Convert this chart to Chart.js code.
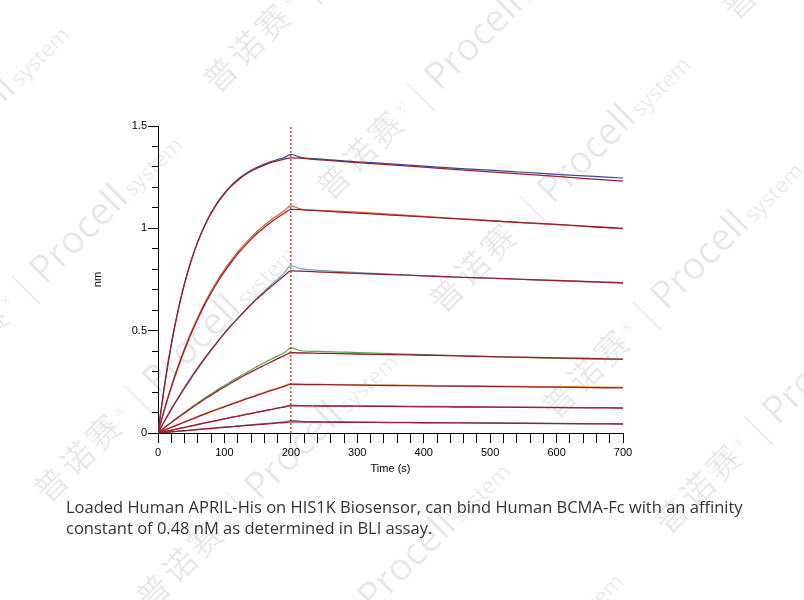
<!DOCTYPE html>
<html>
<head>
<meta charset="utf-8">
<script src="https://cdn.jsdelivr.net/npm/chart.js@4"></script>
<style>
  body { margin: 0; background: #fff; }
  #wrap { position: relative; width: 804px; height: 600px; overflow: hidden; }
  #myChart { position: absolute; left: 0; top: 0; z-index: 1; }
  #caption {
    position: absolute; left: 66px; top: 496px; width: 730px; z-index: 2;
    font-family: "Open Sans", "Noto Sans", sans-serif; font-size: 16.5px;
    line-height: 21px; color: #333;
  }
  .wm {
    position: absolute; z-index: 0; white-space: nowrap; height: 40px; line-height: 40px;
    transform-origin: 0 20px; transform: rotate(-45deg);
    color: rgba(0, 0, 0, 0.09); font-family: "Open Sans", sans-serif;
  }
  .wm .cn { font-family: "Noto Sans CJK SC", sans-serif; font-size: 33px; letter-spacing: 4px; }
  .wm .r { font-size: 13px; vertical-align: 12px; }
  .wm .bar { font-size: 40px; font-weight: 300; margin: 0 6px; }
  .wm .en { font-size: 38px; }
  .wm .sys { font-size: 22px; margin-left: 4px; }
</style>
</head>
<body>
<div id="wrap">
  <canvas id="myChart" width="804" height="600"></canvas>
  <div id="caption">Loaded Human APRIL-His on HIS1K Biosensor, can bind Human BCMA-Fc with an affinity<br>constant of 0.48 nM as determined in BLI assay.</div>
</div>
<script>
// time points (s) for fitted curves and measured curves
var fitTime = [0, 10, 20, 30, 40, 50, 60, 70, 80, 90, 100, 110, 120, 130, 140, 150, 160, 170, 180, 190, 200,
  250, 300, 350, 400, 450, 500, 550, 600, 650, 700];
var dataTime = [0, 10, 20, 30, 40, 50, 60, 70, 80, 90, 100, 110, 120, 130, 140, 150, 160, 170, 180, 190, 200,
  215, 250, 300, 350, 400, 450, 500, 550, 600, 650, 700];

// fitted responses (nm), highest concentration first
var fit1 = [0, 0.238, 0.435, 0.597, 0.732, 0.843, 0.935, 1.011, 1.074, 1.126, 1.169, 1.205, 1.234, 1.259, 1.279, 1.295, 1.309, 1.321, 1.330, 1.338, 1.344,
  1.333, 1.321, 1.310, 1.299, 1.287, 1.276, 1.265, 1.254, 1.242, 1.231];
var fit2 = [0, 0.117, 0.223, 0.319, 0.406, 0.486, 0.558, 0.625, 0.684, 0.739, 0.788, 0.833, 0.875, 0.912, 0.946, 0.977, 1.004, 1.030, 1.053, 1.074, 1.093,
  1.084, 1.074, 1.065, 1.056, 1.046, 1.037, 1.028, 1.019, 1.009, 1.000];
var fit3 = [0, 0.060, 0.117, 0.171, 0.223, 0.272, 0.319, 0.365, 0.407, 0.448, 0.488, 0.525, 0.560, 0.594, 0.627, 0.658, 0.687, 0.715, 0.742, 0.768, 0.792,
  0.786, 0.780, 0.774, 0.768, 0.762, 0.757, 0.751, 0.745, 0.739, 0.733];
var fit4 = [0, 0.026, 0.051, 0.075, 0.098, 0.121, 0.143, 0.165, 0.185, 0.206, 0.225, 0.244, 0.263, 0.281, 0.298, 0.315, 0.331, 0.347, 0.363, 0.378, 0.392,
  0.389, 0.386, 0.383, 0.380, 0.377, 0.373, 0.370, 0.367, 0.364, 0.361];
var fit5 = [0, 0.014, 0.027, 0.040, 0.053, 0.066, 0.079, 0.092, 0.104, 0.116, 0.128, 0.140, 0.151, 0.163, 0.174, 0.185, 0.196, 0.207, 0.217, 0.228, 0.238,
  0.236, 0.234, 0.232, 0.230, 0.229, 0.227, 0.225, 0.224, 0.222, 0.220];
var fit6 = [0, 0.007, 0.014, 0.021, 0.028, 0.035, 0.042, 0.049, 0.056, 0.062, 0.069, 0.076, 0.082, 0.089, 0.095, 0.102, 0.108, 0.114, 0.121, 0.127, 0.133,
  0.132, 0.131, 0.130, 0.128, 0.127, 0.126, 0.125, 0.124, 0.123, 0.122];
var fit7 = [0, 0.003, 0.006, 0.009, 0.011, 0.014, 0.017, 0.020, 0.022, 0.025, 0.028, 0.030, 0.033, 0.036, 0.038, 0.041, 0.044, 0.046, 0.049, 0.051, 0.054,
  0.053, 0.052, 0.051, 0.050, 0.049, 0.048, 0.047, 0.046, 0.045, 0.044];

// measured responses (nm)
var data1 = [0, 0.232, 0.430, 0.594, 0.730, 0.842, 0.935, 1.012, 1.076, 1.129, 1.172, 1.209, 1.239, 1.263, 1.284, 1.300, 1.314, 1.326, 1.336, 1.346, 1.361,
  1.347, 1.337, 1.325, 1.315, 1.304, 1.293, 1.284, 1.274, 1.264, 1.255, 1.246];
var data2 = [0, 0.121, 0.229, 0.326, 0.414, 0.494, 0.567, 0.634, 0.694, 0.749, 0.798, 0.843, 0.885, 0.922, 0.956, 0.987, 1.015, 1.041, 1.064, 1.086, 1.110,
  1.094, 1.087, 1.079, 1.069, 1.058, 1.048, 1.038, 1.027, 1.018, 1.008, 0.998];
var data3 = [0, 0.058, 0.113, 0.166, 0.217, 0.266, 0.313, 0.359, 0.402, 0.444, 0.485, 0.523, 0.560, 0.595, 0.629, 0.662, 0.693, 0.723, 0.752, 0.781, 0.818,
  0.803, 0.793, 0.784, 0.776, 0.768, 0.761, 0.755, 0.750, 0.744, 0.740, 0.735];
var data4 = [0, 0.027, 0.052, 0.077, 0.101, 0.125, 0.148, 0.170, 0.191, 0.212, 0.232, 0.252, 0.271, 0.290, 0.308, 0.326, 0.343, 0.360, 0.376, 0.392, 0.416,
  0.402, 0.398, 0.393, 0.388, 0.383, 0.378, 0.373, 0.369, 0.365, 0.362, 0.359];
var data5 = [0, 0.015, 0.029, 0.042, 0.056, 0.069, 0.082, 0.095, 0.107, 0.119, 0.131, 0.143, 0.154, 0.166, 0.177, 0.188, 0.199, 0.210, 0.220, 0.231, 0.243,
  0.240, 0.238, 0.236, 0.234, 0.233, 0.231, 0.230, 0.228, 0.227, 0.226, 0.224];
var data6 = [0, 0.006, 0.013, 0.020, 0.027, 0.034, 0.041, 0.048, 0.055, 0.062, 0.069, 0.076, 0.082, 0.089, 0.096, 0.102, 0.109, 0.115, 0.122, 0.128, 0.136,
  0.134, 0.133, 0.132, 0.131, 0.130, 0.129, 0.127, 0.126, 0.125, 0.124, 0.123];
var data7 = [0, 0.002, 0.005, 0.008, 0.011, 0.014, 0.017, 0.020, 0.023, 0.026, 0.029, 0.031, 0.034, 0.037, 0.040, 0.043, 0.045, 0.048, 0.051, 0.054, 0.061,
  0.057, 0.055, 0.053, 0.052, 0.051, 0.050, 0.049, 0.048, 0.047, 0.046, 0.045];

// association / dissociation switch
var switchTime = [200, 200];
var switchLevel = [0, 1.5];

var fits = [fit1, fit2, fit3, fit4, fit5, fit6, fit7];
var measured = [data1, data2, data3, data4, data5, data6, data7];
var dataColors = ['#3b4596', '#d8642a', '#6f9cc4', '#5aa83c', '#eea048', '#cc4a84', '#5f6f8e'];
var fitColor = '#96202e';

// background watermark anchors (left end of each stamp)
var stampX = [205, 318, 431, 544, 656, -190, -77, 36, 138, 251, 364, 724];
var stampY = [83, 190, 303, 409, 524, 273, 383, 493, 600, 710, 820, 10];

var wrap = document.getElementById('wrap');
for (let i = 0; i < stampX.length; i++) {
  var s = document.createElement('div');
  s.className = 'wm';
  s.style.left = stampX[i] + 'px';
  s.style.top = (stampY[i] - 20) + 'px';
  s.innerHTML = '<span class="cn">普诺赛</span><span class="r">®</span><span class="bar">|</span><span class="en">Procell</span><span class="sys">system</span>';
  wrap.appendChild(s);
}

function pts(xs, ys) {
  return ys.map(function(v, i) { return { x: xs[i], y: v }; });
}

var datasets = [];
for (let i = 0; i < measured.length; i++) {
  datasets.push({
    data: pts(dataTime, measured[i]),
    borderColor: dataColors[i],
    borderWidth: 1.2,
    pointRadius: 0,
    cubicInterpolationMode: 'monotone',
    order: 2
  });
}
for (let i = 0; i < fits.length; i++) {
  datasets.push({
    data: pts(fitTime, fits[i]),
    borderColor: fitColor,
    borderWidth: 1.3,
    pointRadius: 0,
    cubicInterpolationMode: 'monotone',
    order: 1
  });
}
datasets.push({
  data: pts(switchTime, switchLevel),
  borderColor: '#a3252a',
  borderWidth: 1.2,
  borderDash: [2, 2],
  pointRadius: 0,
  order: 0
});

function isMajor(v, step) {
  return Math.abs(v / step - Math.round(v / step)) < 1e-6;
}

var tickFont = { family: 'Liberation Sans, Arial, sans-serif', size: 11 };

var ctx = document.getElementById('myChart').getContext('2d');
var chart = new Chart(ctx, {
  type: 'line',
  data: { datasets: datasets },
  options: {
    responsive: false,
    animation: false,
    devicePixelRatio: 1,
    layout: { padding: { left: 80, right: 181, top: 126, bottom: 117 } },
    plugins: { legend: { display: false }, tooltip: { enabled: false } },
    scales: {
      x: {
        type: 'linear',
        min: 0, max: 700,
        afterFit: function(scale) { scale.height = 50; },
        border: { display: true, color: '#000', width: 1 },
        grid: { drawOnChartArea: false, tickLength: 10, tickColor: '#000' },
        ticks: {
          stepSize: 20, autoSkip: false, maxRotation: 0, padding: 3,
          color: '#000', font: tickFont,
          callback: function(v) { return isMajor(v, 100) ? String(v) : ''; }
        },
        title: { display: true, text: 'Time (s)', color: '#000', font: tickFont, padding: { top: 0, bottom: 7 } }
      },
      y: {
        min: 0, max: 1.5,
        afterFit: function(scale) { scale.width = 78; },
        border: { display: true, color: '#000', width: 1 },
        grid: {
          drawOnChartArea: false, tickLength: 10, tickColor: '#000',
          tickBorderDash: function(c) { return isMajor(c.tick.value, 0.5) ? [] : [0, 4, 6, 0]; }
        },
        ticks: {
          stepSize: 0.1, autoSkip: false, padding: 1,
          color: '#000', font: tickFont,
          callback: function(v) { return isMajor(v, 0.5) ? String(Math.round(v * 10) / 10) : ''; }
        },
        title: { display: true, text: 'nm', color: '#000', font: tickFont, padding: { top: 11, bottom: 0 } }
      }
    }
  }
});
</script>
</body>
</html>
